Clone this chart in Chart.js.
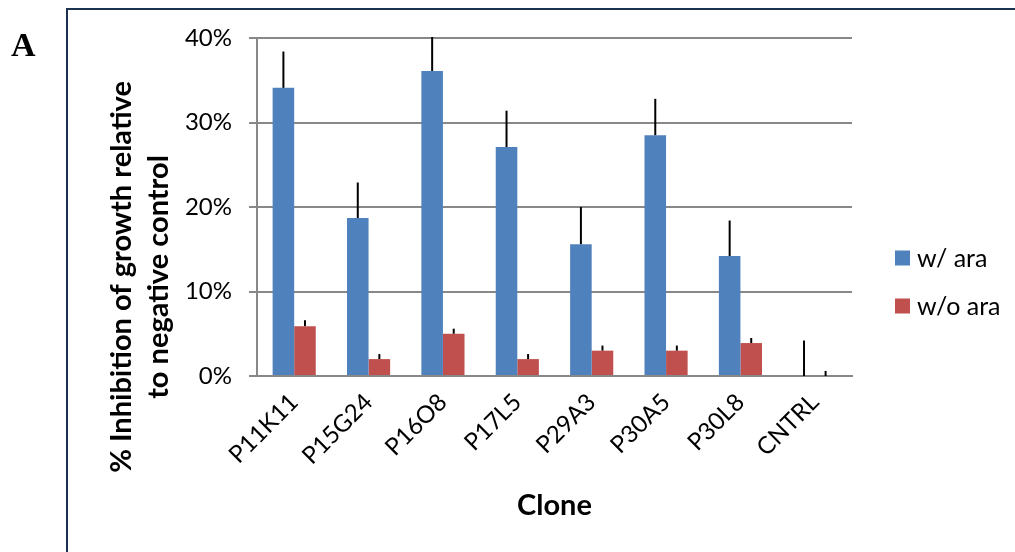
<!DOCTYPE html>
<html>
<head>
<meta charset="utf-8">
<title>Inhibition of growth by clone</title>
<script src="https://cdn.jsdelivr.net/npm/chart.js"></script>
<style>
  html, body { margin: 0; padding: 0; background: #fff; }
  canvas { display: block; }
</style>
</head>
<body>
<canvas id="inhibitionChart" width="1015" height="552"></canvas>
<script>
// Datos del gráfico (en %)
const clones = ['P11K11', 'P15G24', 'P16O8', 'P17L5', 'P29A3', 'P30A5', 'P30L8', 'CNTRL'];
const conAra = [34.1, 18.7, 36.1, 27.1, 15.6, 28.5, 14.2, 0];
const conAraErr = [4.3, 4.2, 4.3, 4.3, 4.4, 4.3, 4.2, 4.2];
const sinAra = [5.9, 2.0, 5.0, 2.0, 3.0, 3.0, 3.9, 0];
const sinAraErr = [0.7, 0.6, 0.6, 0.6, 0.6, 0.6, 0.6, 0.6];
const yTickLabels = ['0%', '10%', '20%', '30%', '40%'];
const seriesNames = ['w/ ara', 'w/o ara'];

const FONT = 'Lato, "Open Sans", sans-serif';
const AZUL = '#4F81BD';
const ROJO = '#C0504D';
const GRIS = '#888888';

// Barras de error (solo hacia arriba), recortadas al área del gráfico
const errorBars = {
    id: 'errorBars',
    afterDatasetsDraw(chart) {
        const { ctx, chartArea, scales: { y } } = chart;
        ctx.save();
        ctx.beginPath();
        ctx.rect(chartArea.left, chartArea.top - 1, chartArea.right - chartArea.left, chartArea.bottom - chartArea.top + 1);
        ctx.clip();
        ctx.strokeStyle = '#000';
        ctx.lineWidth = 2;
        chart.data.datasets.forEach((ds, i) => {
            const meta = chart.getDatasetMeta(i);
            meta.data.forEach((bar, j) => {
                const top = y.getPixelForValue(ds.data[j] + ds.errores[j]);
                ctx.beginPath();
                ctx.moveTo(bar.x, bar.y);
                ctx.lineTo(bar.x, top);
                ctx.stroke();
            });
        });
        ctx.restore();
    }
};

// Marco, letra del panel, títulos de ejes y leyenda
const decoraciones = {
    id: 'decoraciones',
    afterDraw(chart) {
        const { ctx, chartArea } = chart;
        ctx.save();

        // marco del panel
        ctx.strokeStyle = '#1b3350';
        ctx.lineWidth = 2;
        ctx.strokeRect(67, 9, 1015, 600);

        // letra del panel
        ctx.fillStyle = '#000';
        ctx.font = 'bold 34px "Liberation Serif", "Times New Roman", serif';
        ctx.textAlign = 'left';
        ctx.textBaseline = 'alphabetic';
        ctx.fillText('A', 11, 56);

        // título del eje Y (dos líneas, rotado)
        ctx.save();
        ctx.translate(0, 277);
        ctx.rotate(-Math.PI / 2);
        ctx.font = 'bold 29px ' + FONT;
        ctx.textAlign = 'center';
        ctx.fillText('% Inhibition of growth relative', 0, 131);
        ctx.fillText('to negative control', 0, 168);
        ctx.restore();

        // título del eje X
        ctx.font = 'bold 29px ' + FONT;
        ctx.textAlign = 'center';
        ctx.fillText('Clone', (chartArea.left + chartArea.right) / 2, 515);

        // leyenda
        const colores = [AZUL, ROJO];
        ctx.font = '25px ' + FONT;
        ctx.textAlign = 'left';
        ctx.textBaseline = 'middle';
        seriesNames.forEach((name, i) => {
            const cy = 258 + i * 48;
            ctx.fillStyle = colores[i];
            ctx.fillRect(895, cy - 7.5, 15, 15);
            ctx.fillStyle = '#000';
            ctx.fillText(name, 917, cy + 1);
        });

        ctx.restore();
    }
};

new Chart(document.getElementById('inhibitionChart'), {
    type: 'bar',
    data: {
        labels: clones,
        datasets: [
            {
                label: seriesNames[0],
                data: conAra,
                errores: conAraErr,
                backgroundColor: AZUL,
                borderWidth: 0,
                categoryPercentage: 0.58,
                barPercentage: 1.0
            },
            {
                label: seriesNames[1],
                data: sinAra,
                errores: sinAraErr,
                backgroundColor: ROJO,
                borderWidth: 0,
                categoryPercentage: 0.58,
                barPercentage: 1.0
            }
        ]
    },
    options: {
        responsive: false,
        animation: false,
        layout: {
            padding: { left: 180, top: 38, right: 163, bottom: 0 }
        },
        scales: {
            x: {
                grid: { display: false },
                border: { display: true, color: GRIS, width: 2 },
                ticks: {
                    color: '#000',
                    font: { family: FONT, size: 24 },
                    minRotation: 45,
                    maxRotation: 45,
                    padding: 4
                },
                afterFit(scale) { scale.height = 176; }
            },
            y: {
                min: 0,
                max: 40,
                ticks: {
                    stepSize: 10,
                    color: '#000',
                    font: { family: FONT, size: 24 },
                    padding: 17,
                    callback: (value, index) => yTickLabels[index]
                },
                grid: {
                    color: GRIS,
                    lineWidth: 2,
                    tickLength: 8
                },
                border: { display: true, color: GRIS, width: 2 },
                afterFit(scale) { scale.width = 77; }
            }
        },
        plugins: {
            legend: { display: false },
            tooltip: { enabled: false }
        }
    },
    plugins: [errorBars, decoraciones]
});
</script>
</body>
</html>
